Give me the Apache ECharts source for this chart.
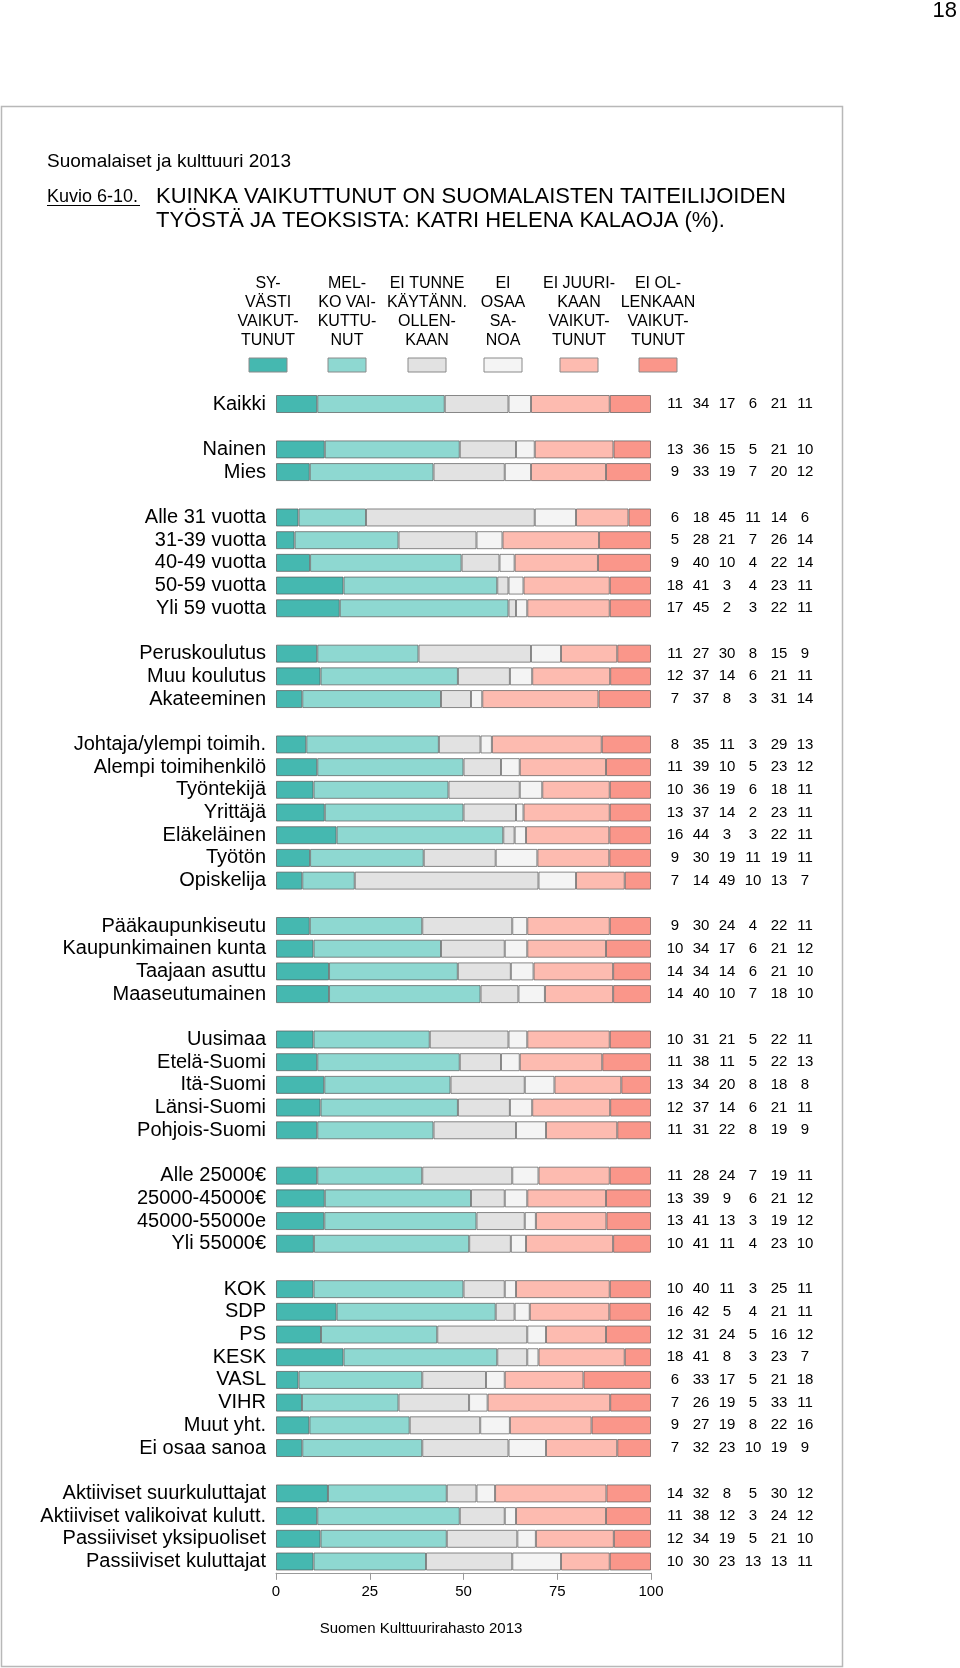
<!DOCTYPE html>
<html>
<head>
<meta charset="utf-8">
<script src="https://cdn.jsdelivr.net/npm/echarts@6/dist/echarts.min.js"></script>
<style>
html,body{margin:0;padding:0;background:#fff;}
#chart{width:960px;height:1668px;}
</style>
</head>
<body>
<div id="chart"></div>
<script>
// ---- Data ----
const labels = [
  'Kaikki',
  'Nainen', 'Mies',
  'Alle 31 vuotta', '31-39 vuotta', '40-49 vuotta', '50-59 vuotta', 'Yli 59 vuotta',
  'Peruskoulutus', 'Muu koulutus', 'Akateeminen',
  'Johtaja/ylempi toimih.', 'Alempi toimihenkilö', 'Työntekijä', 'Yrittäjä', 'Eläkeläinen', 'Työtön', 'Opiskelija',
  'Pääkaupunkiseutu', 'Kaupunkimainen kunta', 'Taajaan asuttu', 'Maaseutumainen',
  'Uusimaa', 'Etelä-Suomi', 'Itä-Suomi', 'Länsi-Suomi', 'Pohjois-Suomi',
  'Alle 25000€', '25000-45000€', '45000-55000e', 'Yli 55000€',
  'KOK', 'SDP', 'PS', 'KESK', 'VASL', 'VIHR', 'Muut yht.', 'Ei osaa sanoa',
  'Aktiiviset suurkuluttajat', 'Aktiiviset valikoivat kulutt.', 'Passiiviset yksipuoliset', 'Passiiviset kuluttajat'
];
const groupSizes = [1, 2, 5, 3, 7, 4, 5, 4, 8, 4];

const syvasti     = [11, 13, 9, 6, 5, 9, 18, 17, 11, 12, 7, 8, 11, 10, 13, 16, 9, 7, 9, 10, 14, 14, 10, 11, 13, 12, 11, 11, 13, 13, 10, 10, 16, 12, 18, 6, 7, 9, 7, 14, 11, 12, 10];
const melko       = [34, 36, 33, 18, 28, 40, 41, 45, 27, 37, 37, 35, 39, 36, 37, 44, 30, 14, 30, 34, 34, 40, 31, 38, 34, 37, 31, 28, 39, 41, 41, 40, 42, 31, 41, 33, 26, 27, 32, 32, 38, 34, 30];
const eiTunne     = [17, 15, 19, 45, 21, 10, 3, 2, 30, 14, 8, 11, 10, 19, 14, 3, 19, 49, 24, 17, 14, 10, 21, 11, 20, 14, 22, 24, 9, 13, 11, 11, 5, 24, 8, 17, 19, 19, 23, 8, 12, 19, 23];
const eiOsaa      = [6, 5, 7, 11, 7, 4, 4, 3, 8, 6, 3, 3, 5, 6, 2, 3, 11, 10, 4, 6, 6, 7, 5, 5, 8, 6, 8, 7, 6, 3, 4, 3, 4, 5, 3, 5, 5, 8, 10, 5, 3, 5, 13];
const eiJuuri     = [21, 21, 20, 14, 26, 22, 23, 22, 15, 21, 31, 29, 23, 18, 23, 22, 19, 13, 22, 21, 21, 18, 22, 22, 18, 21, 19, 19, 21, 19, 23, 25, 21, 16, 23, 21, 33, 22, 19, 30, 24, 21, 13];
const eiOllenkaan = [11, 10, 12, 6, 14, 14, 11, 11, 9, 11, 14, 13, 12, 11, 11, 11, 11, 7, 11, 12, 10, 10, 11, 13, 8, 11, 9, 11, 12, 12, 10, 11, 11, 12, 7, 18, 11, 16, 9, 12, 12, 10, 11];

const seriesNames = ['Syvästi vaikuttunut', 'Melko vaikuttunut', 'Ei tunne käytännöllisesti katsoen ollenkaan', 'Ei osaa sanoa', 'Ei juurikaan vaikuttunut', 'Ei ollenkaan vaikuttunut'];
const legendLines = [
  ['SY-', 'VÄSTI', 'VAIKUT-', 'TUNUT'],
  ['MEL-', 'KO VAI-', 'KUTTU-', 'NUT'],
  ['EI TUNNE', 'KÄYTÄNN.', 'OLLEN-', 'KAAN'],
  ['EI', 'OSAA', 'SA-', 'NOA'],
  ['EI JUURI-', 'KAAN', 'VAIKUT-', 'TUNUT'],
  ['EI OL-', 'LENKAAN', 'VAIKUT-', 'TUNUT']
];
const xMin = 0, xMax = 100, xStep = 25;

// ---- Styles ----
const colors = ['#45b8b0', '#8ed8d1', '#e2e2e2', '#f4f4f4', '#fdbbb0', '#fa968a'];
const FONT = "'Liberation Sans', Arial, Helvetica, sans-serif";

// ---- Build rows with blank spacer rows between groups ----
const allSeries = [syvasti, melko, eiTunne, eiOsaa, eiJuuri, eiOllenkaan];
const cats = [];
const rowSrc = []; // index into labels or -1
let k = 0;
groupSizes.forEach((g, gi) => {
  if (gi > 0) { cats.push(''); rowSrc.push(-1); }
  for (let i = 0; i < g; i++) { cats.push(labels[k]); rowSrc.push(k); k++; }
});
// 100 % stacked bars: each row's shares are scaled to its total (rounded figures may not sum to exactly 100)
const rowTotals = labels.map((_, r) => allSeries.reduce((s, a) => s + a[r], 0));
const seriesData = allSeries.map(arr => rowSrc.map(r => (r < 0 ? null : arr[r] * 100 / rowTotals[r])));

const rowCount = cats.length;           // 52
const pitch = 22.696;
const gridTop = 404 - pitch / 2;
const gridLeft = 276, gridRight = 651;

const chart = echarts.init(document.getElementById('chart'), null, { renderer: 'canvas' });

const legendX = [268, 347, 427, 503, 579, 658];
const graphics = [];
// frame
graphics.push({ type: 'rect', z: 0, shape: { x: 1.5, y: 106.5, width: 841, height: 1560 }, style: { fill: 'none', stroke: '#b8b8b8', lineWidth: 1.5 } });
// page number
graphics.push({ type: 'text', x: 957, y: 11, style: { text: '18', fill: '#000', font: '22px ' + FONT, textAlign: 'right', textVerticalAlign: 'middle' } });
// headings
graphics.push({ type: 'text', x: 47, y: 162, style: { text: 'Suomalaiset ja kulttuuri 2013', fill: '#000', font: '19px ' + FONT, textVerticalAlign: 'middle' } });
graphics.push({ type: 'text', x: 47, y: 197, style: { text: 'Kuvio 6-10.', fill: '#000', font: '18px ' + FONT, textVerticalAlign: 'middle' } });
graphics.push({ type: 'line', shape: { x1: 47, y1: 205.5, x2: 140, y2: 205.5 }, style: { stroke: '#000', lineWidth: 1 } });
graphics.push({ type: 'text', x: 156, y: 197, style: { text: 'KUINKA VAIKUTTUNUT ON SUOMALAISTEN TAITEILIJOIDEN', fill: '#000', font: '22px ' + FONT, textVerticalAlign: 'middle' } });
graphics.push({ type: 'text', x: 156, y: 221, style: { text: 'TYÖSTÄ JA TEOKSISTA: KATRI HELENA KALAOJA (%).', fill: '#000', font: '22px ' + FONT, textVerticalAlign: 'middle' } });
// legend
legendLines.forEach((lines, i) => {
  graphics.push({ type: 'text', x: legendX[i], y: 274, style: { text: lines.join('\n'), fill: '#000', font: '16px ' + FONT, textAlign: 'center', lineHeight: 19 } });
  graphics.push({ type: 'rect', shape: { x: legendX[i] - 19, y: 358, width: 38, height: 14 }, style: { fill: colors[i], stroke: '#8a8a8a', lineWidth: 1 } });
});
// source
graphics.push({ type: 'text', x: 421, y: 1629, style: { text: 'Suomen Kulttuurirahasto 2013', fill: '#000', font: '15px ' + FONT, textAlign: 'center', textVerticalAlign: 'middle' } });

const option = {
  animation: false,
  backgroundColor: '#fff',
  grid: { left: gridLeft, width: gridRight - gridLeft, top: gridTop, height: pitch * rowCount, containLabel: false },
  xAxis: {
    type: 'value', min: xMin, max: xMax, interval: xStep,
    axisLine: { show: true, lineStyle: { color: '#9a9a9a', width: 1 } },
    axisTick: { show: true, length: 7, lineStyle: { color: '#9a9a9a' } },
    axisLabel: { fontSize: 15, color: '#000', margin: 12, fontFamily: FONT },
    splitLine: { show: false }
  },
  yAxis: [
    {
      type: 'category', data: cats, inverse: true,
      axisLine: { show: false }, axisTick: { show: false },
      axisLabel: { fontSize: 20, color: '#000', margin: 10, fontFamily: FONT, interval: 0 }
    },
    {
      type: 'category', data: cats, inverse: true, position: 'right',
      axisLine: { show: false }, axisTick: { show: false },
      axisLabel: {
        interval: 0, margin: 11, align: 'left',
        formatter: function (v, idx) {
          const r = rowSrc[idx];
          if (r < 0 || r === undefined) return '';
          return allSeries.map(a => '{n|' + a[r] + '}').join('');
        },
        rich: { n: { width: 26, align: 'center', fontSize: 15, color: '#000', fontFamily: FONT } }
      }
    }
  ],
  series: seriesData.map((d, i) => ({
    name: seriesNames[i], type: 'bar', stack: 'all', yAxisIndex: 0,
    data: d, barWidth: 18,
    itemStyle: { color: colors[i], borderColor: 'rgba(90,90,90,0.7)', borderWidth: 1 },
    emphasis: { disabled: true }
  })),
  graphic: graphics
};
chart.setOption(option);
</script>
</body>
</html>
